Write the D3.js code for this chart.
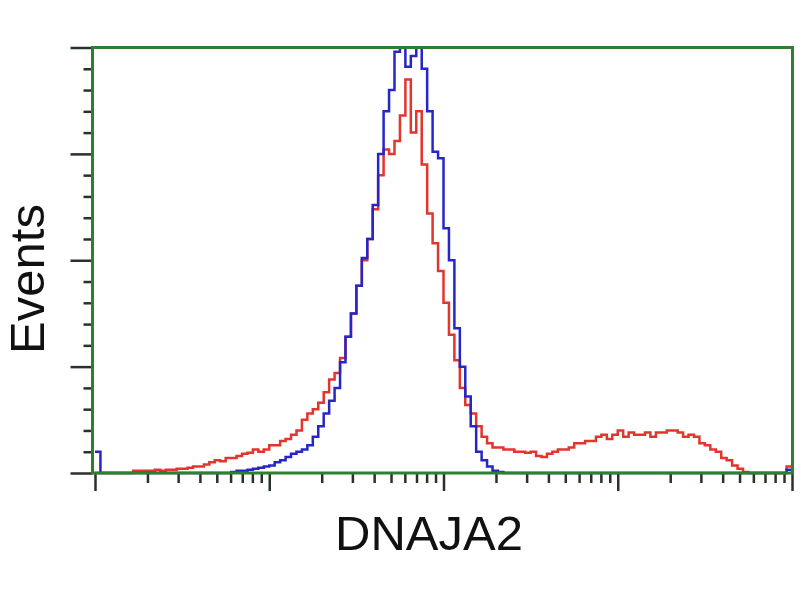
<!DOCTYPE html>
<html>
<head>
<meta charset="utf-8">
<script src="https://cdn.jsdelivr.net/npm/d3@7"></script>
<style>
  html, body { margin: 0; padding: 0; background: #fff; }
  svg { display: block; }
</style>
</head>
<body>
<svg id="chart" width="800" height="600"></svg>
<script>
// ---- Data (histogram counts per channel, 128 channels over 4 log decades) ----
const channelCount = 128;
const xDomain = [1, 10000];
const yDomain = [0, 200];
const xMajorTicks = [1, 10, 100, 1000, 10000];
const yMajorTicks = [0, 50, 100, 150, 200];
const xLabel = "DNAJA2";
const yLabel = "Events";

// isotype control (blue)
const blueCounts = [
  10,0,0,0,0,0,0,0,0,0,
  0,0,0,0,0,0,0,0,0,0,
  0,0,0,0,0,0.5,1,1,1.5,2,
  2.5,3,3.5,5,6,7.5,9,10,11,13,
  17,22,28,34,40,52,64,75,88,101,
  110,126,150,170,180,198,200,191,196,200,
  190,170,151,148,115,100,68,50,36,22,
  10,6,3,1,0.5,0,0,0,0,0,
  0,0,0,0,0,0,0,0,0,0,
  0,0,0,0,0,0,0,0,0,0,
  0,0,0,0,0,0,0,0,0,0,
  0,0,0,0,0,0,0,0,0,0,
  0,0,0,0,0,0,0,1.5
];

// DNAJA2 stained sample (red)
const redCounts = [
  0,0,0,0,0,0,0,1,1,1,
  1,1.5,1,1.5,1.5,2,2,2.5,3,3,
  4,5,6,5.5,7,7,8,9,9.5,11,
  10,11,13,13,15,16,18,20,25,28,
  30,33,38,44,47,54,64,75,88,100,
  110,124,140,152,150,156,168,185,160,170,
  145,122,108,95,80,65,53,40,32,28,
  22,17,14,12,12,11,11,10,10,9.5,
  10,8,7.5,9,10,11,11,12,14,14,
  15,15,17,18,16,18,20,17,19,18,
  18,19,17,19,19,20,20,19,17,18,
  17,14,13,11,10,7,6,3.5,2,0.5,
  0,0,0,0,0,0,0,3
];

const frameColor = "#2f7f32";
const tickColor = "#263326";
const redColor = "#e2352e";
const blueColor = "#2626c8";

// ---- Layout ----
const svg = d3.select("#chart");
const plotLeft = 92.5, plotRight = 792.5, plotTop = 47.5, plotBottom = 473;

const x = d3.scaleLog().domain(xDomain).range([95, 792]);
const y = d3.scaleLinear().domain(yDomain).range([plotBottom, plotTop]);

const binEdge = i => Math.pow(10, Math.log10(xDomain[0]) + i * (Math.log10(xDomain[1]) - Math.log10(xDomain[0])) / channelCount);

function stepPoints(counts) {
  const pts = counts.map((c, i) => [binEdge(i), c]);
  pts.push([binEdge(counts.length), counts[counts.length - 1]]);
  return pts;
}

const line = d3.line()
  .x(d => x(d[0]))
  .y(d => y(d[1]))
  .curve(d3.curveStepAfter);

// ---- Y axis ticks (left) ----
const yMinor = d3.range(yDomain[0], yDomain[1] + 0.001, 10).filter(v => !yMajorTicks.includes(v));
const yAxisMinor = d3.axisLeft(y).tickValues(yMinor).tickSize(9).tickFormat("");
const yAxisMajor = d3.axisLeft(y).tickValues(yMajorTicks).tickSize(22).tickFormat("");
[yAxisMinor, yAxisMajor].forEach(ax => {
  const g = svg.append("g").attr("transform", `translate(${plotLeft},0)`).call(ax);
  g.select(".domain").remove();
  g.selectAll("line").attr("stroke", tickColor).attr("stroke-width", 2.5);
});

// ---- X axis ticks (bottom, log) ----
const xMinor = [];
for (let d = 1; d < xDomain[1]; d *= 10) for (let k = 2; k <= 9; k++) xMinor.push(d * k);
const xAxisMinor = d3.axisBottom(x).tickValues(xMinor).tickSize(10).tickFormat("");
const xAxisMajor = d3.axisBottom(x).tickValues(xMajorTicks).tickSize(18).tickFormat("");
[xAxisMinor, xAxisMajor].forEach(ax => {
  const g = svg.append("g").attr("transform", `translate(0,${plotBottom})`).call(ax);
  g.select(".domain").remove();
  g.selectAll("line").attr("stroke", tickColor).attr("stroke-width", 2.5);
});

// ---- Histograms ----
svg.append("path")
  .attr("d", line(stepPoints(redCounts)))
  .attr("fill", "none")
  .attr("stroke", redColor)
  .attr("stroke-width", 2.5);

svg.append("path")
  .attr("d", line(stepPoints(blueCounts)))
  .attr("fill", "none")
  .attr("stroke", blueColor)
  .attr("stroke-width", 2.5);

// ---- Frame ----
svg.append("rect")
  .attr("x", plotLeft).attr("y", plotTop)
  .attr("width", plotRight - plotLeft).attr("height", plotBottom - plotTop)
  .attr("fill", "none")
  .attr("stroke", frameColor)
  .attr("stroke-width", 3);

// ---- Labels ----
svg.append("text")
  .attr("transform", "translate(44,279) rotate(-90)")
  .attr("text-anchor", "middle")
  .attr("font-family", "'Liberation Sans', Arial, sans-serif")
  .attr("font-size", 49)
  .attr("fill", "#111")
  .text(yLabel);

svg.append("text")
  .attr("x", 429).attr("y", 550)
  .attr("text-anchor", "middle")
  .attr("font-family", "'Liberation Sans', Arial, sans-serif")
  .attr("font-size", 49)
  .attr("fill", "#111")
  .text(xLabel);
</script>
</body>
</html>
